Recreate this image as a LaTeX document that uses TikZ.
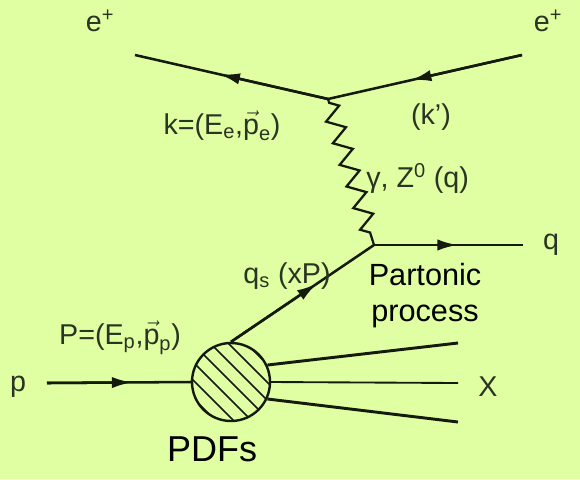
\documentclass[tikz,border=0pt]{standalone}
\usepackage{amsmath}
\usepackage{fontspec}
\setmainfont{Liberation Sans}
\usetikzlibrary{arrows.meta, decorations.pathmorphing, calc}
\definecolor{dis-bg}{HTML}{E0FFA2}
\definecolor{dis-ink}{HTML}{141A0E}
\definecolor{dis-text}{HTML}{2A3422}
% line with an arrow head part way along it
\newcommand{\fermionline}[3][0.55]{%
  \draw[line] (#2) -- (#3);
  \draw[line, -{Latex[length=15pt,width=8.5pt]}] (#2) -- ($(#2)!#1!(#3)$);}

\begin{document}
\begin{tikzpicture}[x=0.75pt, y=-0.75pt,
    line/.style={draw=dis-ink, line width=1.9pt},
    lbl/.style={text=dis-text, font=\fontsize{21.5}{25}\selectfont, inner sep=0pt},
    big/.style={text=black, font=\fontsize{23}{27}\selectfont, inner sep=0pt, align=center}]
  \fill[dis-bg] (0,0) rectangle (580,479);
  \useasboundingbox (0,0) rectangle (580,479);

  % vertices and free ends
  \coordinate (vtop) at (328,99);
  \coordinate (vbot) at (374,245);
  \coordinate (eout) at (135,55);
  \coordinate (ein) at (522,55);
  \coordinate (qout) at (523,245);
  \coordinate (pin) at (47,383);
  \coordinate (xup) at (458,343);
  \coordinate (xmid) at (458,383);
  \coordinate (xlow) at (458,422);

  % proton blob
  \node[circle, draw=dis-ink, line width=1.8pt, minimum size=58.5pt, inner sep=0pt] (blob) at (231,382) {};
  \begin{scope}
    \clip (blob.center) circle[radius=39];
    \foreach \d in {-3,...,3}
      \draw[dis-ink, line width=1.3pt] ($(blob.center)+(\d*9-45,-\d*9-45)$) -- ++(90,90);
  \end{scope}

  % lepton lines
  \fermionline[0.56]{vtop}{eout}
  \fermionline[0.57]{ein}{vtop}
  \draw[decorate, line, line width=1.7pt,
        decoration={zigzag, segment length=17pt, amplitude=6.5pt, pre length=3pt, post length=3pt}] (vtop) -- (vbot);

  % quark lines
  \fermionline[0.6]{blob.north}{vbot}
  \fermionline[0.56]{vbot}{qout}
  \begin{scope}[line width=1.4pt]
    \fermionline[0.59]{pin}{blob.west}
  \end{scope}
  \draw[line, line width=2.2pt] (blob.25) -- (xup);
  \draw[line, line width=1.4pt] (blob.east) -- (xmid);
  \draw[line, line width=2.2pt] (blob.-25) -- (xlow);

  % labels
  \node[lbl] (eoutlbl) at (100,21) {e\textsuperscript{+}};
  \node[lbl] (einlbl) at (548,21) {e\textsuperscript{+}};
  \node[lbl] (klbl) at (222,126) {k=(E$_{\text{e}}$,$\vec{\text{p}}_{\text{e}}$)};
  \node[lbl] (kplbl) at (431,117) {(k')};
  \node[lbl, anchor=west] (bosonlbl) at (366,178) {γ, Z\textsuperscript{0} (q)};
  \node[lbl] (qlbl) at (551,245) {q};
  \node[lbl] (qslbl) at (287,276) {q\textsubscript{s} (xP)};
  \node[lbl] (Plbl) at (120,338) {P=(E$_{\text{p}}$,$\vec{\text{p}}_{\text{p}}$)};
  \node[lbl] (plbl) at (18,387) {p};
  \node[lbl] (xlbl) at (488,387) {X};
  \node[big] (parton) at (425,296) {Partonic\\process};
  \node[big, font=\fontsize{27}{32}\selectfont] (pdfs) at (212,449) {PDFs};
\end{tikzpicture}
\end{document}
